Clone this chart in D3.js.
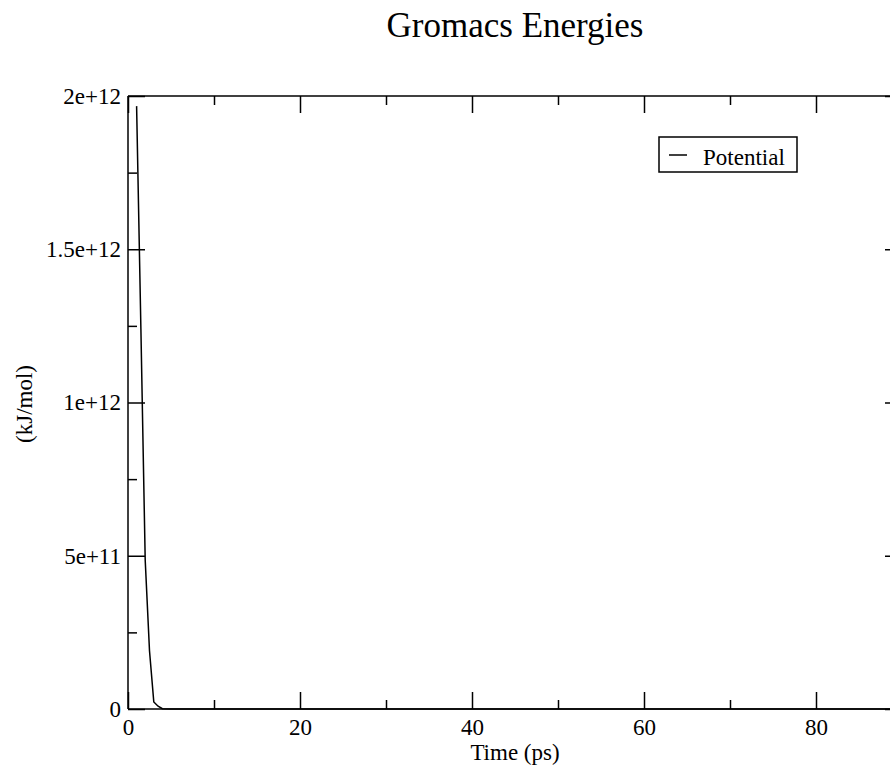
<!DOCTYPE html>
<html>
<head>
<meta charset="utf-8">
<script src="https://cdn.jsdelivr.net/npm/d3@7"></script>
<style>
  html, body { margin: 0; padding: 0; background: #fff; overflow: hidden; }
  svg { display: block; font-family: "Liberation Serif", "DejaVu Serif", serif; overflow: hidden; }
</style>
</head>
<body>
<div id="chart"></div>
<script>
const title = "Gromacs Energies";
const xLabel = "Time (ps)";
const yLabel = "(kJ/mol)";
const seriesName = "Potential";

const time = [1, 1.5, 2, 2.5, 3, 3.5, 4, 5, 10, 20, 30, 40, 50, 60, 70, 80, 90];
const potential = [1.967e12, 1.24e12, 0.486e12, 0.19e12, 0.023e12, 0.009e12, 0.001e12,
  0, 0, 0, 0, 0, 0, 0, 0, 0, 0];

const xMajorTicks = [0, 20, 40, 60, 80];
const xMinorTicks = [10, 30, 50, 70, 90];
const yMajorTicks = [0, 5e11, 1e12, 1.5e12, 2e12];
const yMajorLabels = ["0", "5e+11", "1e+12", "1.5e+12", "2e+12"];
const yMinorTicks = [2.5e11, 7.5e11, 1.25e12, 1.75e12];

const data = time.map((t, i) => ({ t: t, v: potential[i] }));

const svg = d3.select("#chart").append("svg")
  .attr("width", 890)
  .attr("height", 768);

const plot = { left: 128, right: 902, top: 96, bottom: 709 };

const x = d3.scaleLinear().domain([0, 90]).range([plot.left, plot.right]);
const y = d3.scaleLinear().domain([0, 2e12]).range([plot.bottom, plot.top]);

const major = 17;
const minor = 9;
const serif = "Liberation Serif, DejaVu Serif, serif";

function styleAxis(g) {
  g.attr("font-family", serif);
  g.select(".domain").remove();
  g.selectAll(".tick line").attr("stroke", "#000").attr("stroke-width", 1.5);
  g.selectAll(".tick text").attr("fill", "#000").style("font-size", "23px");
}

// bottom axis, ticks pointing in
svg.append("g")
  .attr("transform", `translate(0,${plot.bottom})`)
  .call(d3.axisBottom(x).tickValues(xMajorTicks).tickSize(-major).tickPadding(10)
    .tickFormat(d3.format("d")))
  .call(styleAxis);

svg.append("g")
  .attr("transform", `translate(0,${plot.bottom})`)
  .call(d3.axisBottom(x).tickValues(xMinorTicks).tickSize(-minor).tickFormat(""))
  .call(styleAxis);

// top axis
svg.append("g")
  .attr("transform", `translate(0,${plot.top})`)
  .call(d3.axisTop(x).tickValues(xMajorTicks).tickSize(-major).tickFormat(""))
  .call(styleAxis);
svg.append("g")
  .attr("transform", `translate(0,${plot.top})`)
  .call(d3.axisTop(x).tickValues(xMinorTicks).tickSize(-minor).tickFormat(""))
  .call(styleAxis);

// left axis
svg.append("g")
  .attr("transform", `translate(${plot.left},0)`)
  .call(d3.axisLeft(y).tickValues(yMajorTicks).tickSize(-major).tickPadding(7)
    .tickFormat((d, i) => yMajorLabels[i]))
  .call(styleAxis);

svg.append("g")
  .attr("transform", `translate(${plot.left},0)`)
  .call(d3.axisLeft(y).tickValues(yMinorTicks).tickSize(-minor).tickFormat(""))
  .call(styleAxis);

// right axis: only the major ticks reach into the window
svg.append("g")
  .attr("transform", `translate(${plot.right},0)`)
  .call(d3.axisRight(y).tickValues(yMajorTicks).tickSize(-major).tickFormat(""))
  .call(styleAxis);

// frame: left, top, bottom edges (right edge falls outside the window)
const frame = svg.append("g")
  .attr("stroke", "#000")
  .attr("stroke-width", 1.5);
frame.append("line")
  .attr("x1", plot.left).attr("x2", plot.left)
  .attr("y1", plot.top).attr("y2", plot.bottom);
frame.append("line")
  .attr("x1", plot.left).attr("x2", plot.right)
  .attr("y1", plot.top).attr("y2", plot.top);
frame.append("line")
  .attr("x1", plot.left).attr("x2", plot.right)
  .attr("y1", plot.bottom).attr("y2", plot.bottom);

// series
const line = d3.line()
  .x(d => x(d.t))
  .y(d => y(d.v));

svg.append("path")
  .datum(data)
  .attr("fill", "none")
  .attr("stroke", "#000")
  .attr("stroke-width", 1.5)
  .attr("d", line);

// title and labels
svg.append("text")
  .attr("x", 515)
  .attr("y", 37)
  .attr("text-anchor", "middle")
  .style("font-size", "35px")
  .text(title);

svg.append("text")
  .attr("x", 515)
  .attr("y", 760)
  .attr("text-anchor", "middle")
  .style("font-size", "23px")
  .text(xLabel);

svg.append("text")
  .attr("transform", "translate(32,404) rotate(-90)")
  .attr("text-anchor", "middle")
  .style("font-size", "23px")
  .text(yLabel);

// legend
const legend = svg.append("g");
legend.append("rect")
  .attr("x", 659)
  .attr("y", 137)
  .attr("width", 138)
  .attr("height", 35)
  .attr("fill", "#fff")
  .attr("stroke", "#000")
  .attr("stroke-width", 1.5);
legend.append("line")
  .attr("x1", 669).attr("x2", 687)
  .attr("y1", 155).attr("y2", 155)
  .attr("stroke", "#000")
  .attr("stroke-width", 1.5);
legend.append("text")
  .attr("x", 703)
  .attr("y", 165)
  .style("font-size", "23px")
  .text(seriesName);
</script>
</body>
</html>
